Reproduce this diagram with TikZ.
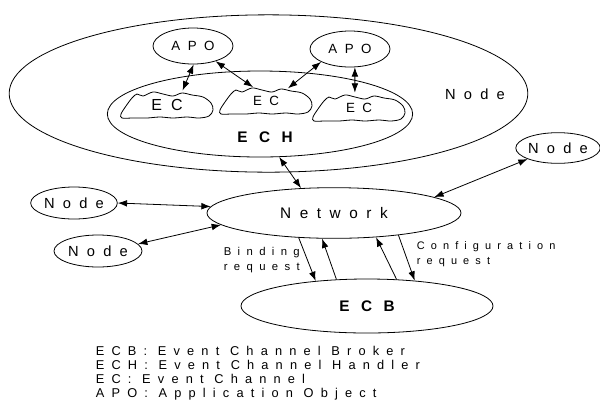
\documentclass[tikz,border=0pt]{standalone}
\usepackage{fontspec}
\setmainfont{Liberation Sans}
\newfontfamily\spaced[LetterSpace=56]{Liberation Sans}
\newfontfamily\widespaced[LetterSpace=75]{Liberation Sans}
\usetikzlibrary{shapes.geometric, arrows.meta}

% cloud outline of an event channel, drawn round a named node
\newcommand{\ecblob}[1]{%
  \draw[shift={(#1)}] plot[smooth cycle, tension=0.55] coordinates {
    (-46,9) (-41,1) (-35,-7) (-30,-11) (-24,-9) (-14,-13) (-4,-11) (6,-9)
    (15,-12) (25,-10) (36,-8) (44,-2) (46,5) (42,11) (32,13) (20,12)
    (6,13) (-7,12) (-20,13) (-34,13) (-45,13)};}

\begin{document}
\begin{tikzpicture}[x=0.75pt, y=-0.75pt, >={Latex[length=7pt,width=5pt]}, line width=0.6pt,
    oval/.style={draw, ellipse, inner sep=0pt},
    big/.style={font=\spaced\fontsize{11}{13}\selectfont},
    small/.style={font=\spaced\fontsize{8.5}{11.25}\selectfont},
    boldlabel/.style={font=\widespaced\bfseries\fontsize{11.5}{13}\selectfont}]
    \useasboundingbox (0,0) rectangle (600,412);

    % 1. Node chua ECH va cac APO
    \node[oval, minimum width=389pt, minimum height=118pt] (host) at (268.5,93.5) {};
    \node[big] (hostlabel) at (475,94) {Node};
    \node[oval, minimum width=229pt, minimum height=64.5pt] (ech) at (260,114) {};
    \node[boldlabel] (echlabel) at (265,137) {ECH};

    % Cac APO
    \node[oval, font=\spaced\fontsize{10}{12}\selectfont, minimum width=60pt, minimum height=27pt] (apoA) at (193,46) {APO};
    \node[oval, font=\spaced\fontsize{10}{12}\selectfont, minimum width=60pt, minimum height=27pt] (apoB) at (350,49) {APO};

    % Cac EC (dam may)
    \node[ellipse, inner sep=0pt, minimum width=69pt, minimum height=22.5pt, font=\spaced\fontsize{12}{14}\selectfont] (ecA) at (167,105) {EC};
    \node[ellipse, inner sep=0pt, minimum width=69pt, minimum height=21pt, font=\spaced\fontsize{10}{12}\selectfont] (ecB) at (266,101) {EC};
    \node[ellipse, inner sep=0pt, minimum width=69pt, minimum height=22.5pt, font=\spaced\fontsize{10}{12}\selectfont] (ecC) at (359,108) {EC};
    \ecblob{ecA}
    \ecblob{ecB}
    \ecblob{ecC}

    \draw[<->] (apoA.272) -- (ecA.43);
    \draw[<->] (apoA.326) -- (ecB.133);
    \draw[<->] (apoB.204) -- (ecB.30);
    \draw[<->] (apoB.285) -- (ecC.105);

    % 2. Network, ECB va cac Node khac
    \node[oval, font=\spaced\fontsize{11.5}{13}\selectfont, minimum width=190.5pt, minimum height=38pt] (net) at (334,213) {Network};
    \node[oval, boldlabel, minimum width=189pt, minimum height=40.5pt] (ecb) at (367,306) {ECB};
    \node[oval, big, minimum width=61.5pt, minimum height=23pt] (nodeR) at (558,148) {Node};
    \node[oval, big, minimum width=65pt, minimum height=24pt] (nodeA) at (74,203) {Node};
    \node[oval, big, minimum width=66pt, minimum height=24pt] (nodeB) at (98,251) {Node};

    \draw[<->] (ech.294) -- (net.143);
    \draw[<->] (nodeR.200) -- (net.9);
    \draw[<->] (nodeA.east) -- (net.177);
    \draw[<->] (nodeB.10) -- (net.186);

    % 3. Yeu cau giua Network va ECB
    \draw[->] (net.215) -- (ecb.154);
    \draw[->] (ecb.139) -- (net.245);
    \draw[->] (ecb.42) -- (net.330);
    \draw[->] (net.341) -- (ecb.28);
    \node[small, anchor=west, align=left] (bindlabel) at (219,260.5) {Binding\\request};
    \node[small, anchor=west, align=left, font=\spaced\fontsize{8.2}{11.25}\selectfont] (conflabel) at (412,254.5) {Configuration\\request};

    % 4. Chu thich
    \node[anchor=west, align=left, font=\spaced\fontsize{9.6}{10.5}\selectfont] (legend) at (91,373) {ECB: Event Channel Broker\\ECH: Event Channel Handler\\EC: Event Channel\\APO: Application Object};
\end{tikzpicture}
\end{document}
